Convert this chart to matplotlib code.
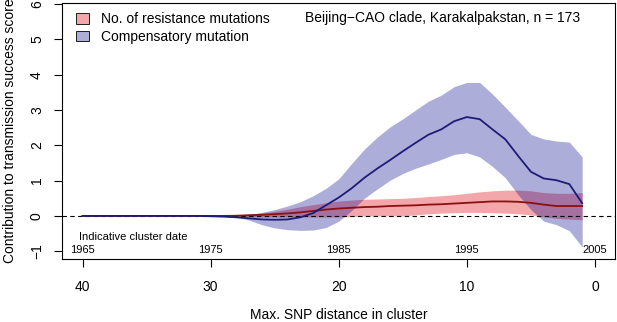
import numpy as np
import matplotlib.pyplot as plt
from matplotlib.patches import Patch

plt.rcParams['font.family'] = ['Liberation Sans', 'DejaVu Sans']

# max SNP distance in cluster, 40 down to 1
snp = list(range(40, 0, -1))

# compensatory mutation: mean, lower, upper (x = 40 ... 1)
comp_mean = [0, 0, 0, 0, 0, 0, 0, 0, 0, 0,
             -0.01, -0.02, -0.04, -0.07, -0.10, -0.11, -0.10, -0.04, 0.08, 0.30,
             0.52, 0.78, 1.08, 1.34, 1.58, 1.83, 2.07, 2.30, 2.45, 2.68,
             2.80, 2.74, 2.45, 2.17, 1.70, 1.25, 1.06, 1.01, 0.90, 0.36]
comp_lo = [0, 0, 0, 0, 0, 0, 0, 0, 0, 0,
           0, -0.01, -0.03, -0.12, -0.25, -0.34, -0.39, -0.41, -0.40, -0.33,
           -0.15, 0.15, 0.50, 0.76, 1.01, 1.20, 1.35, 1.47, 1.60, 1.74,
           1.79, 1.67, 1.40, 1.08, 0.60, 0.18, -0.15, -0.25, -0.42, -0.88]
comp_hi = [0, 0, 0, 0, 0, 0, 0, 0, 0, 0,
           0, 0.01, 0.02, 0.04, 0.10, 0.18, 0.28, 0.40, 0.57, 0.78,
           1.05, 1.48, 1.89, 2.23, 2.52, 2.75, 3.00, 3.25, 3.42, 3.66,
           3.78, 3.78, 3.45, 3.08, 2.70, 2.31, 2.18, 2.12, 2.09, 1.67]

# no. of resistance mutations: mean, lower, upper
res_mean = [0, 0, 0, 0, 0, 0, 0, 0, 0, 0,
            0, 0, 0.005, 0.02, 0.03, 0.05, 0.07, 0.10, 0.14, 0.18,
            0.21, 0.23, 0.25, 0.26, 0.28, 0.29, 0.30, 0.32, 0.33, 0.35,
            0.37, 0.39, 0.41, 0.41, 0.40, 0.37, 0.32, 0.28, 0.28, 0.28]
res_lo = [0, 0, 0, 0, 0, 0, 0, 0, 0, 0,
          0, 0, -0.01, -0.03, -0.03, -0.03, -0.03, -0.03, -0.03, -0.03,
          -0.03, -0.02, 0.0, 0.0, 0.0, 0.0, 0.03, 0.06, 0.08, 0.09,
          0.10, 0.10, 0.09, 0.08, 0.06, 0.03, -0.03, -0.07, -0.09, -0.11]
res_hi = [0, 0, 0, 0, 0, 0, 0, 0, 0, 0,
          0, 0, 0.02, 0.05, 0.08, 0.13, 0.19, 0.26, 0.32, 0.37,
          0.42, 0.45, 0.47, 0.48, 0.49, 0.50, 0.52, 0.55, 0.57, 0.60,
          0.64, 0.68, 0.71, 0.73, 0.73, 0.71, 0.66, 0.64, 0.64, 0.66]

snp_ticks = [40, 30, 20, 10, 0]
date_labels = ['1965', '1975', '1985', '1995', '2005']

red_fill = (230/255, 60/255, 70/255, 0.45)
blue_fill = (0, 0, 139/255, 0.32)
red_line = '#8b1010'
blue_line = '#1c1c78'

fig = plt.figure(figsize=(6.17, 3.22), dpi=100)
ax = fig.add_axes([0.1005, 0.1957, 0.896, 0.795])

ax.axhline(0, color='black', lw=0.8, ls=(0, (4, 3)))
ax.fill_between(snp, res_lo, res_hi, color=red_fill, lw=0)
ax.fill_between(snp, comp_lo, comp_hi, color=blue_fill, lw=0)
ax.plot(snp, res_mean, color=red_line, lw=1.3)
ax.plot(snp, comp_mean, color=blue_line, lw=1.3)

ax.set_xlim(41.6, -1.55)
ax.set_ylim(-1.22, 6.03)
ax.set_xticks(snp_ticks)
ax.set_yticks(range(-1, 7))
ax.tick_params(axis='both', labelsize=10, length=6, width=0.8)
ax.tick_params(axis='x', pad=9)
ax.tick_params(axis='y', pad=7)
for lbl in ax.get_yticklabels():
    lbl.set_rotation(90)
    lbl.set_va('center')
for s in ax.spines.values():
    s.set_linewidth(0.8)

ax.set_xlabel('Max. SNP distance in cluster', fontsize=10, labelpad=10)
ax.set_ylabel('Contribution to transmission success score', fontsize=10, labelpad=9)

# cluster dates along the bottom
ax.text(40.3, -0.59, 'Indicative cluster date', fontsize=8, ha='left', va='center')
for t, d in zip(snp_ticks, date_labels):
    ax.text(t, -0.96, d, fontsize=8, ha='center', va='center')

ax.text(22.6, 5.6, 'Beijing\u2212CAO clade, Karakalpakstan, n = 173',
        fontsize=10, ha='left', va='center')

handles = [Patch(facecolor=red_fill, edgecolor='black', lw=0.6),
           Patch(facecolor=blue_fill, edgecolor='black', lw=0.6)]
ax.legend(handles, ['No. of resistance mutations', 'Compensatory mutation'],
          loc='upper left', bbox_to_anchor=(0.016, 0.985), frameon=False,
          fontsize=10, handlelength=0.9, handleheight=0.8, handletextpad=0.9,
          labelspacing=0.25, borderaxespad=0)

fig.savefig('out.png', dpi=100)
